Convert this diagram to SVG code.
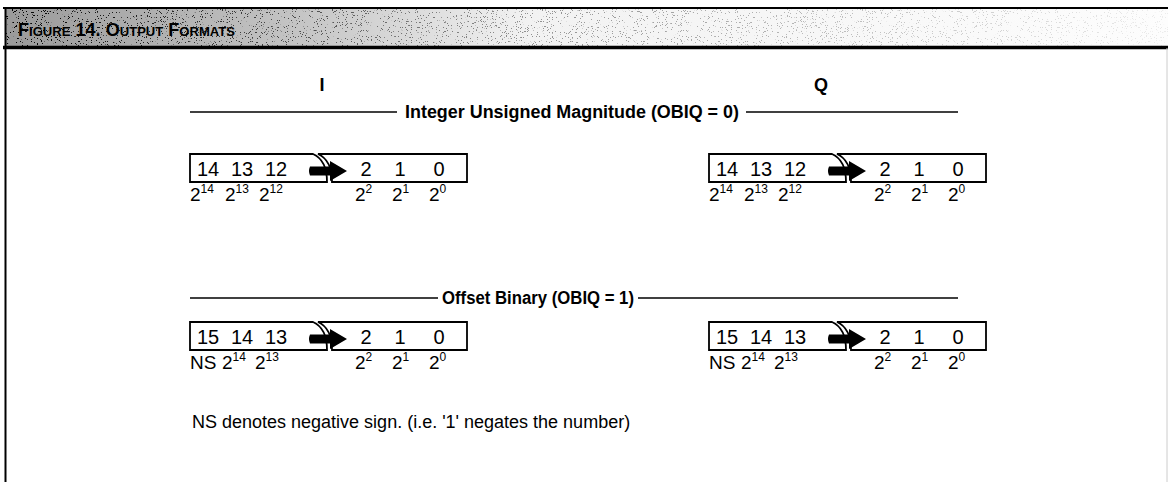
<svg xmlns="http://www.w3.org/2000/svg" width="1168" height="482" viewBox="0 0 1168 482">
<style>
text{font-family:"Liberation Sans",Arial,sans-serif;fill:#000}
.hd{font-size:18px;font-weight:bold}
.dg{font-size:20px;text-anchor:middle}
.pw{font-size:19px}
.sup{font-size:12px}
.note{font-size:18px}
.rule{stroke:#000;stroke-width:1.3;fill:none}
.frame{stroke:#000;stroke-width:1.8;fill:#fff}
</style>
<defs>
<linearGradient id="tg" x1="0" y1="0" x2="1" y2="0">
<stop offset="0" stop-color="#9a9a9a"/>
<stop offset="0.25" stop-color="#c4c4c4"/>
<stop offset="0.45" stop-color="#f2f2f2"/>
<stop offset="1" stop-color="#fdfdfd"/>
</linearGradient>
<linearGradient id="fade" x1="0" y1="0" x2="1" y2="0">
<stop offset="0" stop-color="#fff"/>
<stop offset="0.35" stop-color="#777"/>
<stop offset="1" stop-color="#111"/>
</linearGradient>
<mask id="fm" maskUnits="userSpaceOnUse" x="0" y="0" width="1168" height="60">
<rect x="5" y="9" width="1163" height="37" fill="url(#fade)"/>
</mask>
<filter id="speck" x="0" y="0" width="100%" height="100%">
<feTurbulence type="fractalNoise" baseFrequency="0.8" numOctaves="2" seed="7"/>
<feColorMatrix type="matrix" values="0 0 0 0 0  0 0 0 0 0  0 0 0 0 0  -30 0 0 0 10.2"/>
</filter>
<g id="reg">
<path class="frame" d="M123,0 H0 V28 H137 C137,14 132,4 123,0 Z"/>
<path class="frame" d="M128,0 H277 V28 H142 C142,14 137,4 128,0 Z"/>
<path d="M120,12.5 H140 V7 L157,17 L140,27 V21.5 H120 Q118,17 120,12.5 Z" fill="#000"/>
</g>
</defs>
<rect width="1168" height="482" fill="#fff"/>
<g id="title">
<rect x="5" y="8" width="1163" height="39" fill="url(#tg)"/>
<rect x="5" y="9" width="1163" height="37" filter="url(#speck)" mask="url(#fm)"/>
<line x1="3" y1="8" x2="1168" y2="8" stroke="#000" stroke-width="2"/>
<line x1="3" y1="47.5" x2="1168" y2="47.5" stroke="#000" stroke-width="3.5"/>
<text x="18" y="36" textLength="217" lengthAdjust="spacingAndGlyphs" style="font-size:18px;font-weight:bold;font-variant:small-caps">Figure 14.  Output Formats</text>
</g>
<line x1="5.5" y1="8" x2="5.5" y2="482" stroke="#000" stroke-width="2"/>
<line x1="1167" y1="48" x2="1167" y2="482" stroke="#ccc" stroke-width="1"/>
<text class="hd" x="322" y="91" text-anchor="middle">I</text>
<text class="hd" x="821" y="91" text-anchor="middle">Q</text>
<g id="connectors">
<line class="rule" x1="190" y1="112" x2="397" y2="112"/>
<line class="rule" x1="746" y1="112" x2="958" y2="112"/>
<line class="rule" x1="190" y1="298" x2="438" y2="298"/>
<line class="rule" x1="638" y1="298" x2="958" y2="298"/>
</g>
<text class="hd" x="405" y="118" textLength="334" lengthAdjust="spacingAndGlyphs">Integer Unsigned Magnitude (OBIQ = 0)</text>
<text class="hd" x="538" y="304" text-anchor="middle" textLength="192" lengthAdjust="spacingAndGlyphs">Offset Binary (OBIQ = 1)</text>
<g id="i-int">
<use href="#reg" x="190" y="154"/>
<text class="dg" y="176"><tspan x="208">14</tspan><tspan x="242">13</tspan><tspan x="276">12</tspan><tspan x="366">2</tspan><tspan x="400">1</tspan><tspan x="439">0</tspan></text>
<text class="pw" y="201"><tspan x="190">2</tspan><tspan class="sup" dy="-8">14</tspan><tspan x="225" dy="8">2</tspan><tspan class="sup" dy="-8">13</tspan><tspan x="259" dy="8">2</tspan><tspan class="sup" dy="-8">12</tspan><tspan x="355" dy="8">2</tspan><tspan class="sup" dy="-8">2</tspan><tspan x="392" dy="8">2</tspan><tspan class="sup" dy="-8">1</tspan><tspan x="429" dy="8">2</tspan><tspan class="sup" dy="-8">0</tspan></text>
</g>
<g id="q-int">
<use href="#reg" x="709" y="154"/>
<text class="dg" y="176"><tspan x="727">14</tspan><tspan x="761">13</tspan><tspan x="795">12</tspan><tspan x="885">2</tspan><tspan x="919">1</tspan><tspan x="958">0</tspan></text>
<text class="pw" y="201"><tspan x="709">2</tspan><tspan class="sup" dy="-8">14</tspan><tspan x="744" dy="8">2</tspan><tspan class="sup" dy="-8">13</tspan><tspan x="778" dy="8">2</tspan><tspan class="sup" dy="-8">12</tspan><tspan x="874" dy="8">2</tspan><tspan class="sup" dy="-8">2</tspan><tspan x="911" dy="8">2</tspan><tspan class="sup" dy="-8">1</tspan><tspan x="948" dy="8">2</tspan><tspan class="sup" dy="-8">0</tspan></text>
</g>
<g id="i-off">
<use href="#reg" x="190" y="322"/>
<text class="dg" y="344"><tspan x="208">15</tspan><tspan x="242">14</tspan><tspan x="276">13</tspan><tspan x="366">2</tspan><tspan x="400">1</tspan><tspan x="439">0</tspan></text>
<text class="pw" y="369"><tspan x="190">NS</tspan><tspan x="222">2</tspan><tspan class="sup" dy="-8">14</tspan><tspan x="255" dy="8">2</tspan><tspan class="sup" dy="-8">13</tspan><tspan x="355" dy="8">2</tspan><tspan class="sup" dy="-8">2</tspan><tspan x="392" dy="8">2</tspan><tspan class="sup" dy="-8">1</tspan><tspan x="429" dy="8">2</tspan><tspan class="sup" dy="-8">0</tspan></text>
</g>
<g id="q-off">
<use href="#reg" x="709" y="322"/>
<text class="dg" y="344"><tspan x="727">15</tspan><tspan x="761">14</tspan><tspan x="795">13</tspan><tspan x="885">2</tspan><tspan x="919">1</tspan><tspan x="958">0</tspan></text>
<text class="pw" y="369"><tspan x="709">NS</tspan><tspan x="741">2</tspan><tspan class="sup" dy="-8">14</tspan><tspan x="774" dy="8">2</tspan><tspan class="sup" dy="-8">13</tspan><tspan x="874" dy="8">2</tspan><tspan class="sup" dy="-8">2</tspan><tspan x="911" dy="8">2</tspan><tspan class="sup" dy="-8">1</tspan><tspan x="948" dy="8">2</tspan><tspan class="sup" dy="-8">0</tspan></text>
</g>
<text class="note" x="192" y="428">NS denotes negative sign.  (i.e. '1' negates the number)</text>
</svg>
